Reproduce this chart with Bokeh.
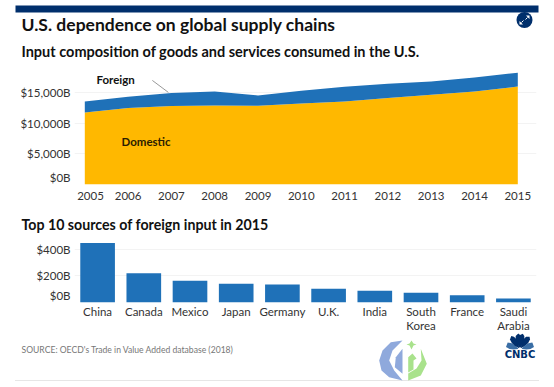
import math
from bokeh.plotting import figure
from bokeh.layouts import column
from bokeh.models import Label, FixedTicker, Range1d, LinearAxis
from bokeh.core.properties import value
from bokeh.embed import file_html
from bokeh.resources import INLINE

# ---- data ----
years = [2005, 2006, 2007, 2008, 2009, 2010, 2011, 2012, 2013, 2014, 2015]
domestic = [11730, 12440, 12770, 12870, 12820, 13200, 13520, 14070, 14600, 15150, 15960]
foreign = [1790, 1845, 2120, 2280, 1680, 2060, 2380, 2330, 2180, 2280, 2240]
y_grid_top = [0, 5000, 10000, 15000]
y_names_top = ["$0B", "$5,000B", "$10,000B", "$15,000B"]

countries = ["China", "Canada", "Mexico", "Japan", "Germany", "U.K.", "India",
             "South Korea", "France", "Saudi Arabia"]
inputs = [445, 220, 163, 140, 135, 103, 88, 73, 55, 30]
y_grid_bot = [0, 200, 400]
y_names_bot = ["$0B", "$200B", "$400B"]
leader_x = [2006.56, 2006.93]
leader_y = [16950, 15000]

NAVY = "#002f6c"
BLUE = "#1f71b8"
YELLOW = "#ffb800"
TXT = "#333333"
FONT = "Lato"
GRID = "#f3f3f3"
TICK_PX = "11.5px"
WM_BLUE = "#8fa9dc"
WM_GREEN = "#a9e28c"

W = 545
L = 74; R = 536
Y0 = 0; Y1 = 62; Y2 = 205; Y3 = 238; Y4 = 340; Y5 = 385
B1 = 184; B2 = 302
PX_YEAR = 43.3
PX_PER_5000 = 30.7
PX_PER_200 = 26.7


def canvas(y_top, y_bot):
    p = figure(width=W, height=y_bot - y_top, output_backend="svg", toolbar_location=None,
               x_range=Range1d(0, W), y_range=Range1d(y_bot, y_top),
               min_border=0, x_axis_location=None, y_axis_location=None, frame_align=False)
    p.outline_line_color = None
    p.background_fill_color = None
    p.border_fill_color = None
    p.grid.visible = False
    return p


def txt(p, s, x, y, size, bold=True, color="#111111", align="left", font=FONT):
    p.text([x], [y], text=[s], text_font=value(font), text_font_size=f"{size}px",
           text_font_style="bold" if bold else "normal", text_color=color,
           text_align=align, text_baseline="middle")


def style(p):
    p.outline_line_color = None
    p.background_fill_color = None
    p.border_fill_color = None
    for a in p.yaxis + p.xaxis:
        a.axis_line_color = None
        a.major_tick_line_color = None
        a.minor_tick_line_color = None
        a.major_tick_in = 0
        a.major_tick_out = 0
        a.major_label_text_color = TXT
        a.major_label_text_font = FONT
        a.major_label_text_font_size = TICK_PX
    p.xgrid.visible = False
    p.ygrid.grid_line_color = GRID


# ---- header ----
head = canvas(Y0, Y1)
txt(head, "U.S. dependence on global supply chains", 21, 24, 17.5)
txt(head, "Input composition of goods and services consumed in the U.S.", 21, 51, 14.5)
head.quad(left=[15], right=[538], top=[5], bottom=[12], fill_color=NAVY, line_color=None)
head.circle([524], [19.5], radius=8, fill_color=NAVY, line_color=None)
head.patch([525.5, 529, 529], [15, 15, 18.5], fill_color="#ffffff", line_color=None)
head.patch([519, 522.5, 519], [20.5, 24, 24], fill_color="#ffffff", line_color=None)
head.line([525, 527], [19, 17], line_color="#ffffff", line_width=1)
head.line([521, 523], [22, 20], line_color="#ffffff", line_width=1)

# ---- top chart ----
lift_top = 7 / PX_PER_5000 * 5000       # the $0B label sits above its gridline
shift_2005 = 5.7 / PX_YEAR              # the 2005 label sits right of its point
p1 = figure(width=W, height=Y2 - Y1, output_backend="svg", toolbar_location=None, frame_align=False,
            x_range=Range1d(2005 - (84.3 - L) / PX_YEAR, 2015 + (R - 517.3) / PX_YEAR),
            y_range=Range1d(0, (B1 - Y1) / PX_PER_5000 * 5000),
            min_border_left=L, min_border_right=W - R, min_border_top=0, min_border_bottom=Y2 - B1)
totals = [d + f for d, f in zip(domestic, foreign)]
p1.varea(x=years, y1=[0] * len(years), y2=domestic, fill_color=YELLOW)
p1.varea(x=years, y1=domestic, y2=totals, fill_color=BLUE)
p1.line(leader_x, leader_y, line_color="#999999", line_width=1)
top_ticks = [lift_top] + y_grid_top[1:]
p1.yaxis.ticker = FixedTicker(ticks=top_ticks)
p1.yaxis.major_label_overrides = dict(zip(top_ticks, y_names_top))
p1.ygrid.ticker = FixedTicker(ticks=y_grid_top)
x_ticks = [2005 + shift_2005] + years[1:]
p1.xaxis.ticker = FixedTicker(ticks=x_ticks)
p1.xaxis.major_label_overrides = dict(zip(x_ticks, [str(y) for y in years]))
style(p1)
p1.yaxis.major_label_standoff = 4
p1.xaxis.major_label_standoff = 7
for s, X, Y, c in [("Foreign", 96, 79, "#111111"), ("Domestic", 121, 141, "#2b1c00")]:
    p1.add_layout(Label(x=X - L, y=B1 - Y, x_units="screen", y_units="screen", text=s,
                        text_font=FONT, text_font_size="11.5px", text_font_style="bold",
                        text_color=c, text_baseline="middle"))

# ---- second heading ----
mid = canvas(Y2, Y3)
txt(mid, "Top 10 sources of foreign input in 2015", 21, 224, 14.2)

# ---- bottom chart ----
lift_bot = 7 / PX_PER_200 * 200
idx = list(range(len(countries)))
p2 = figure(width=W, height=Y4 - Y3, output_backend="svg", toolbar_location=None, frame_align=False,
            x_range=Range1d(-0.5, len(countries) - 0.5),
            y_range=Range1d(0, (B2 - Y3) / PX_PER_200 * 200),
            min_border_left=L, min_border_right=W - R, min_border_top=0, min_border_bottom=Y4 - B2)
p2.vbar(x=idx, top=inputs, width=0.75, fill_color=BLUE, line_color=None)
bot_ticks = [lift_bot] + y_grid_bot[1:]
p2.yaxis.ticker = FixedTicker(ticks=bot_ticks)
p2.yaxis.major_label_overrides = dict(zip(bot_ticks, y_names_bot))
p2.ygrid.ticker = FixedTicker(ticks=y_grid_bot)
p2.xaxis.ticker = FixedTicker(ticks=idx)
p2.xaxis.major_label_overrides = {i: c.split()[0] for i, c in zip(idx, countries)}
wrapped = [i for i, c in zip(idx, countries) if " " in c]
second = LinearAxis(ticker=FixedTicker(ticks=wrapped),
                    major_label_overrides={i: countries[i].split()[1] for i in wrapped})
p2.add_layout(second, "below")
style(p2)
p2.yaxis.major_label_standoff = 4
p2.xaxis[0].major_label_standoff = 2
second.major_label_standoff = -2

# ---- footer ----
foot = canvas(Y4 - 10, Y5)
foot.margin = (-10, 0, 0, 0)
txt(foot, "SOURCE: OECD's Trade in Value Added database (2018)", 21, 349, 8.6, bold=False, color="#777777")
foot.line([15, 538], [380, 380], line_color="#cccccc", line_width=1, line_dash="1 1")
txt(foot, "CNBC", 519.5, 354, 10, color=NAVY, align="center", font="DejaVu Sans")

# watermark
foot.patch([402, 390.3, 382, 378.7, 381, 388.7, 402, 393.7, 388.7, 392],
           [340, 341.7, 350, 360, 370, 376.7, 380, 370, 360, 350],
           fill_color=WM_BLUE, line_color=None)
foot.patch([402, 395.3, 394.3, 402], [348.3, 356.7, 366.7, 373.3], fill_color=WM_BLUE, line_color=None)
foot.patch([420.3, 426.3, 420.3, 407.7, 407.7, 416, 421],
           [348.3, 363.3, 375, 380, 373, 368, 360], fill_color=WM_GREEN, line_color=None)
foot.patch([407.7, 412, 416, 413, 413, 407.7], [356.7, 353, 358, 360, 369, 372],
           fill_color=WM_GREEN, line_color=None)
foot.patch([411, 413, 416, 413, 411, 409, 406, 409], [340, 343, 344, 345, 349, 345, 344, 343],
           fill_color=WM_GREEN, line_color=None)

# peacock
for ang, col in zip([-160, -125, -98, -82, -55, -20],
                    ["#3a6ea5", NAVY, NAVY, NAVY, NAVY, "#3a6ea5"]):
    a = math.radians(ang)
    ox, oy = 519.5, 349
    n = (-math.sin(a), math.cos(a))
    d = (math.cos(a), math.sin(a))
    Ln = 16 if abs(ang + 90) < 50 else 14
    xs, ys = [], []
    for t, w in [(2, 0.3), (6, 2.2), (10, 3), (14, 2.4), (Ln, 0.5)]:
        xs.append(ox + d[0] * t + n[0] * w); ys.append(oy + d[1] * t + n[1] * w)
    for t, w in [(14, 2.4), (10, 3), (6, 2.2), (2, 0.3)]:
        xs.append(ox + d[0] * t - n[0] * w); ys.append(oy + d[1] * t - n[1] * w)
    foot.patch(xs, ys, fill_color=col, line_color=None)

page = column(head, p1, mid, p2, foot, spacing=0)
open("out.html", "w").write(file_html(page, INLINE))
